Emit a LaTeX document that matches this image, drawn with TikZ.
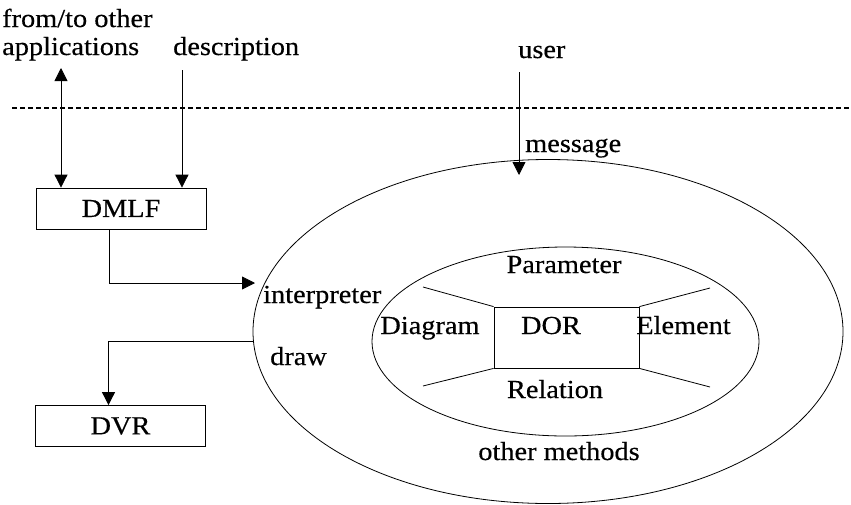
\documentclass[tikz,border=0pt]{standalone}
\usepackage{fontspec}
\setmainfont{Liberation Serif}[FakeStretch=1.09,FakeBold=0.4]
\usetikzlibrary{arrows.meta,shapes.geometric,calc}
\begin{document}
\begin{tikzpicture}[x=1pt,y=-1pt,
  every node/.style={inner sep=0pt,font=\fontsize{26}{30}\selectfont},
  box/.style={draw,line width=0.8pt,rectangle,minimum width=170pt,minimum height=41pt},
  oval/.style={draw,line width=0.8pt,ellipse,inner sep=0pt},
  conn/.style={line width=0.8pt},
  arr/.style={conn,-{Triangle[width=13pt,length=13pt]}},
  lbl/.style={anchor=base west},
  lblc/.style={anchor=base}]
\useasboundingbox (0,0) rectangle (851,504);

% separator
\draw[line width=1.6pt,dash pattern=on 5pt off 3pt] (12,108) -- (851,108);

% boxes
\node[box] (dmlf) at (121,208.5) {DMLF};
\node[box] (dvr) at (120.5,426) {DVR};

% ellipses
\node[oval,minimum width=590pt,minimum height=344pt] (outer) at (548,331.5) {};
\node[oval,minimum width=387pt,minimum height=189pt] (inner) at (565.5,341.5) {};

% DOR box
\node[draw,line width=0.8pt,rectangle,minimum width=145pt,minimum height=61pt] (dor) at (566.5,337.5) {};
\node[lblc] (dortxt) at (551,334) {DOR};

% spokes
\coordinate (s1) at (423,287);
\coordinate (s2) at (710,288);
\coordinate (s3) at (423,386);
\coordinate (s4) at (710,387);
\draw[conn] (dor.north west) -- (s1);
\draw[conn] (dor.north east) -- (s2);
\draw[conn] (dor.south west) -- (s3);
\draw[conn] (dor.south east) -- (s4);

% labels
\node[lbl] (t1) at (2,27) {from/to other};
\node[lbl] (t2) at (2,55) {applications};
\node[lbl] (t3) at (173,55) {description};
\node[lbl] (t4) at (518,58) {user};
\node[lbl] (t5) at (525,152) {message};
\node[lbl] (t6) at (263,303) {interpreter};
\node[lbl] (t7) at (270,365) {draw};
\node[lblc] (t8) at (564,273) {Parameter};
\node[lblc] (t9) at (430,334) {Diagram};
\node[lblc] (t10) at (683.5,334) {Element};
\node[lblc] (t11) at (555,398) {Relation};
\node[lblc] (t12) at (559,460) {other methods};

% connectors
\coordinate (apps) at (61,68);
\coordinate (desc) at (182,70);
\coordinate (usr) at (519,72);
\coordinate (msg) at (519,175);
\coordinate (interp) at (255,283);

\draw[conn,{Triangle[width=13pt,length=13pt]}-{Triangle[width=13pt,length=13pt]}] (apps) -- (apps |- dmlf.north);
\draw[arr] (desc) -- (desc |- dmlf.north);
\draw[arr] (usr) -- (msg);
\draw[arr] ([xshift=-12pt]dmlf.south) |- (interp);
\draw[arr] (outer.182) -| ([xshift=-12pt]dvr.north);
\end{tikzpicture}
\end{document}
